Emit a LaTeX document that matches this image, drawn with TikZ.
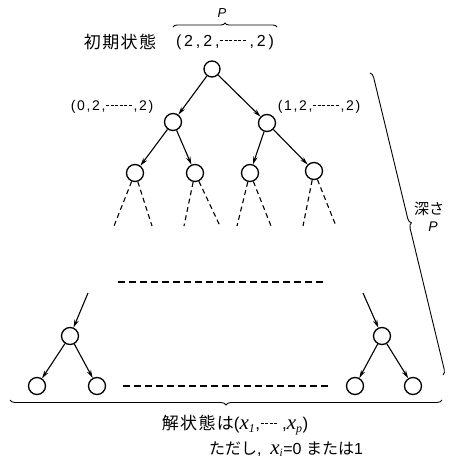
\documentclass[tikz,border=0pt]{standalone}
\usepackage{fontspec}
\setmainfont{Liberation Sans}
\newfontfamily\jpfont{Noto Sans CJK JP}
\newfontfamily\jpwidefont[LetterSpace=8]{Noto Sans CJK JP}
\newfontfamily\tuplefont[LetterSpace=12]{Liberation Sans}
\newfontfamily\widetuplefont[LetterSpace=18]{Liberation Sans}
\newfontfamily\varfont{Liberation Serif}
\usepackage{tikz}
\usetikzlibrary{arrows.meta, decorations.pathreplacing}

% short run of dashes inside a tuple
\newcommand{\dashrun}[1]{\hbox to #1{\leaders\hbox to 4.5pt{\hss\rule[0.34em]{3pt}{0.8pt}\hss}\hfill}}
% italic variable with a subscript
\newcommand{\varx}[1]{{\varfont\itshape\fontsize{21}{21}\selectfont x}\textsubscript{\varfont\itshape #1}}

\tikzset{
  searchnode/.style={
    circle, draw, line width=1.3pt, minimum size=17pt, inner sep=0pt
  },
  rootnode/.style={
    circle, draw, line width=1.3pt, minimum size=16pt, inner sep=0pt
  },
  treearrow/.style={
    -{Stealth[length=8pt,width=4.5pt]}, line width=1.1pt
  },
  openbranch/.style={
    line width=1.1pt, dash pattern=on 5pt off 3.5pt
  },
  levelgap/.style={
    line width=1.1pt, dash pattern=on 7pt off 4pt
  },
  bracemark/.style={
    decorate, decoration={brace, amplitude=5pt}, line width=0.9pt
  },
  tuplelabel/.style={
    font=\tuplefont\fontsize{14}{14}\selectfont, inner sep=0pt
  },
  jplabel/.style={
    font=\jpfont\fontsize{15}{15}\selectfont, inner sep=0pt
  },
}

\begin{document}
\begin{tikzpicture}[x=1pt, y=-1pt]
  \useasboundingbox (0,0) rectangle (452,461);

  % ── Initial state ──────────────────────────────────────────────
  \node[jplabel, font=\jpwidefont\fontsize{17}{17}\selectfont]
    (initname) at (120,42) {初期状態};
  \node[inner sep=0pt, font=\widetuplefont\fontsize{16}{16}\selectfont]
    (inittuple) at (225,42) {(2,2,\dashrun{30pt},2)};
  \coordinate (obraceL) at (173,27);
  \coordinate (obraceR) at (277,27);
  \draw[bracemark, decoration={amplitude=4pt}] (obraceL) -- (obraceR);
  \node[font=\itshape\fontsize{13}{13}\selectfont, inner sep=0pt]
    (plen) at (222,13) {P};

  % ── Tree, upper levels ─────────────────────────────────────────
  \node[rootnode] (root) at (212,69) {};

  \node[searchnode] (lA) at (173,122) {};
  \node[searchnode] (lB) at (267,123) {};
  \draw[treearrow] (root) -- (lA);
  \draw[treearrow] (root) -- (lB);

  \node[tuplelabel] (labA) at (112,107) {(0,2,\dashrun{28pt},2)};
  \node[tuplelabel] (labB) at (319,107) {(1,2,\dashrun{28pt},2)};

  \node[searchnode] (mA) at (135,173) {};
  \node[searchnode] (mB) at (195,173) {};
  \node[searchnode] (mC) at (250,173) {};
  \node[searchnode] (mD) at (314,171) {};
  \draw[treearrow] (lA) -- (mA);
  \draw[treearrow] (lA) -- (mB);
  \draw[treearrow] (lB) -- (mC);
  \draw[treearrow] (lB) -- (mD);

  % ── Open branches below level 2 ────────────────────────────────
  \foreach \n/\xl/\xr in {mA/114/152, mB/184/220, mC/237/271, mD/303/336}{
    \coordinate (\n-l) at (\xl,226);
    \coordinate (\n-r) at (\xr,226);
    \draw[openbranch] (\n) -- (\n-l);
    \draw[openbranch] (\n) -- (\n-r);
  }

  \coordinate (gapL) at (118,282);
  \coordinate (gapR) at (325,282);
  \draw[levelgap] (gapL) -- (gapR);

  % ── Lowest levels ──────────────────────────────────────────────
  \coordinate (inL) at (88,293);
  \coordinate (inR) at (363,293);
  \node[searchnode] (pL) at (70,336) {};
  \node[searchnode] (pR) at (382,336) {};
  \draw[treearrow] (inL) -- (pL);
  \draw[treearrow] (inR) -- (pR);

  \node[searchnode] (qA) at (37,386) {};
  \node[searchnode] (qB) at (97,386) {};
  \node[searchnode] (qC) at (355,386) {};
  \node[searchnode] (qD) at (413,386) {};
  \draw[treearrow] (pL) -- (qA);
  \draw[treearrow] (pL) -- (qB);
  \draw[treearrow] (pR) -- (qC);
  \draw[treearrow] (pR) -- (qD);

  \coordinate (leafL) at (123,386);
  \coordinate (leafR) at (328,386);
  \draw[levelgap] (leafL) -- (leafR);

  % ── Depth brace ────────────────────────────────────────────────
  \coordinate (dbraceT) at (370,73);
  \coordinate (dbraceB) at (443,375);
  \draw[bracemark] (dbraceT) -- (dbraceB);
  \node[jplabel, font=\jpfont\fontsize{15}{15}\selectfont]
    (depthname) at (429,209) {深さ};
  \node[font=\itshape\fontsize{14}{14}\selectfont, inner sep=0pt]
    (depthp) at (433,227) {P};

  % ── Solution states ────────────────────────────────────────────
  \coordinate (sbraceR) at (442,400);
  \coordinate (sbraceL) at (10,400);
  \draw[bracemark] (sbraceR) -- (sbraceL);

  \node[inner sep=0pt, font=\fontsize{17}{17}\selectfont]
    (solline) at (235,425)
    {{\jpwidefont 解状態は}(\varx{1},\dashrun{22pt},\varx{p})};
  \node[inner sep=0pt, font=\fontsize{16}{16}\selectfont]
    (noteline) at (286,449)
    {{\jpfont ただし}, \ \varx{i}=0 {\jpfont または}1};
\end{tikzpicture}
\end{document}
